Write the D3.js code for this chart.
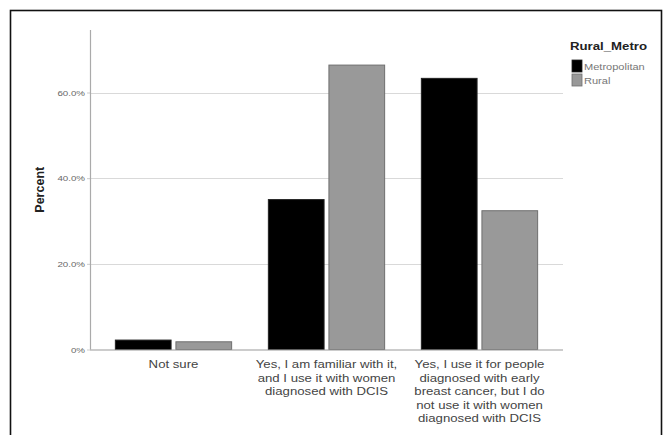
<!DOCTYPE html>
<html>
<head>
<meta charset="utf-8">
<script src="https://cdn.jsdelivr.net/npm/d3@7"></script>
<style>
  html, body { margin: 0; padding: 0; background: #fff; }
  svg { display: block; }
  text { font-family: "Liberation Sans", Arial, sans-serif; }
</style>
</head>
<body>
<svg id="chart" width="665" height="435"></svg>
<script>
// ---- data ----
const categories = [
  ["Not sure"],
  ["Yes, I am familiar with it,", "and I use it with women", "diagnosed with DCIS"],
  ["Yes, I use it for people", "diagnosed with early", "breast cancer, but I do", "not use it with women", "diagnosed with DCIS"]
];
const seriesNames = ["Metropolitan", "Rural"];
const metropolitan = [2.2, 35.0, 63.3];
const rural = [1.8, 66.4, 32.4];
const yTicks = [0, 20, 40, 60];
const yTickLabels = ["0%", "20.0%", "40.0%", "60.0%"];
const legendTitle = "Rural_Metro";
const yTitle = "Percent";

// ---- layout ----
const svg = d3.select("#chart");
const colors = { "Metropolitan": "#000000", "Rural": "#999999" };
const strokes = { "Metropolitan": "#222222", "Rural": "#6f6f6f" };
const SX = 1.25; // horizontal stretch of the reference's text

// outer frame
svg.append("rect")
  .attr("x", 10.5).attr("y", 10.5)
  .attr("width", 651).attr("height", 440)
  .attr("fill", "none").attr("stroke", "#111").attr("stroke-width", 1.6);

const y = d3.scaleLinear().domain([0, 60]).range([349.5, 92.5]);
const yTop = y.invert(30);
const catIdx = categories.map((d, i) => i);
const x0 = d3.scaleBand().domain(catIdx).range([97, 556]).paddingInner(0.24).paddingOuter(0.12);
const x1 = d3.scaleBand().domain(seriesNames).range([0, x0.bandwidth()]).paddingInner(0.08);

const xLeft = 90, xRight = 563;

// gridlines
svg.append("g").selectAll("line").data(yTicks.filter(t => t > 0)).join("line")
  .attr("x1", xLeft).attr("x2", xRight)
  .attr("y1", d => Math.round(y(d)) + 0.5).attr("y2", d => Math.round(y(d)) + 0.5)
  .attr("stroke", "#d9d9d9").attr("stroke-width", 1);

// y axis
const yAxis = d3.axisLeft(y).tickValues(yTicks).tickFormat((d, i) => yTickLabels[i]).tickSize(3).tickPadding(3);
const gy = svg.append("g").attr("transform", `translate(${xLeft},0)`).call(yAxis);
gy.select(".domain").remove();
gy.selectAll(".tick line").attr("stroke", "#ccc");
gy.selectAll(".tick text")
  .attr("font-size", 7.5).attr("fill", "#666")
  .attr("x", null).attr("dy", null)
  .attr("transform", `translate(-5,2.6) scale(${SX + 0.05},1)`);
svg.append("line").attr("x1", xLeft + 0.5).attr("x2", xLeft + 0.5)
  .attr("y1", y(yTop)).attr("y2", y(0)).attr("stroke", "#aaa").attr("stroke-width", 1.2);

// bars
const data = categories.map((c, i) => ({ i, values: [
  { key: "Metropolitan", v: metropolitan[i] },
  { key: "Rural", v: rural[i] }
]}));
const groups = svg.append("g").selectAll("g").data(data).join("g")
  .attr("transform", d => `translate(${x0(d.i)},0)`);
groups.selectAll("rect").data(d => d.values).join("rect")
  .attr("x", d => x1(d.key))
  .attr("width", x1.bandwidth())
  .attr("y", d => y(d.v))
  .attr("height", d => y(0) - y(d.v))
  .attr("fill", d => colors[d.key])
  .attr("stroke", d => strokes[d.key])
  .attr("stroke-width", 1);

// x baseline
svg.append("line").attr("x1", xLeft).attr("x2", xRight)
  .attr("y1", y(0) + 0.5).attr("y2", y(0) + 0.5)
  .attr("stroke", "#999").attr("stroke-width", 1.2);

// x labels
const xl = svg.append("g").selectAll("text").data(data).join("text")
  .attr("transform", d => `translate(${x0(d.i) + x0.bandwidth() / 2},368) scale(${SX - 0.05},1)`)
  .attr("text-anchor", "middle")
  .attr("font-size", 11)
  .attr("fill", "#444");
xl.selectAll("tspan").data(d => categories[d.i]).join("tspan")
  .attr("x", 0)
  .attr("dy", (d, j) => j === 0 ? 0 : 13.6)
  .text(d => d);

// y title
svg.append("text")
  .attr("transform", `translate(44,${(y(0) + y(yTop)) / 2}) rotate(-90)`)
  .attr("text-anchor", "middle")
  .attr("font-size", 12.5).attr("font-weight", "bold").attr("fill", "#222")
  .text(yTitle);

// legend
const lg = svg.append("g");
lg.append("text").attr("transform", `translate(570,50) scale(1.15,1)`)
  .attr("font-size", 11.5).attr("font-weight", "bold").attr("fill", "#222")
  .text(legendTitle);
const li = lg.selectAll("g.item").data(seriesNames).join("g").attr("class", "item")
  .attr("transform", (d, i) => `translate(572,${60 + i * 14})`);
li.append("rect").attr("width", 10).attr("height", 12)
  .attr("fill", d => colors[d]).attr("stroke", d => strokes[d]).attr("stroke-width", 0.8);
li.append("text").attr("transform", `translate(12,9.5) scale(1.3,1)`)
  .attr("font-size", 8.5).attr("fill", "#777").text(d => d);
</script>
</body>
</html>
